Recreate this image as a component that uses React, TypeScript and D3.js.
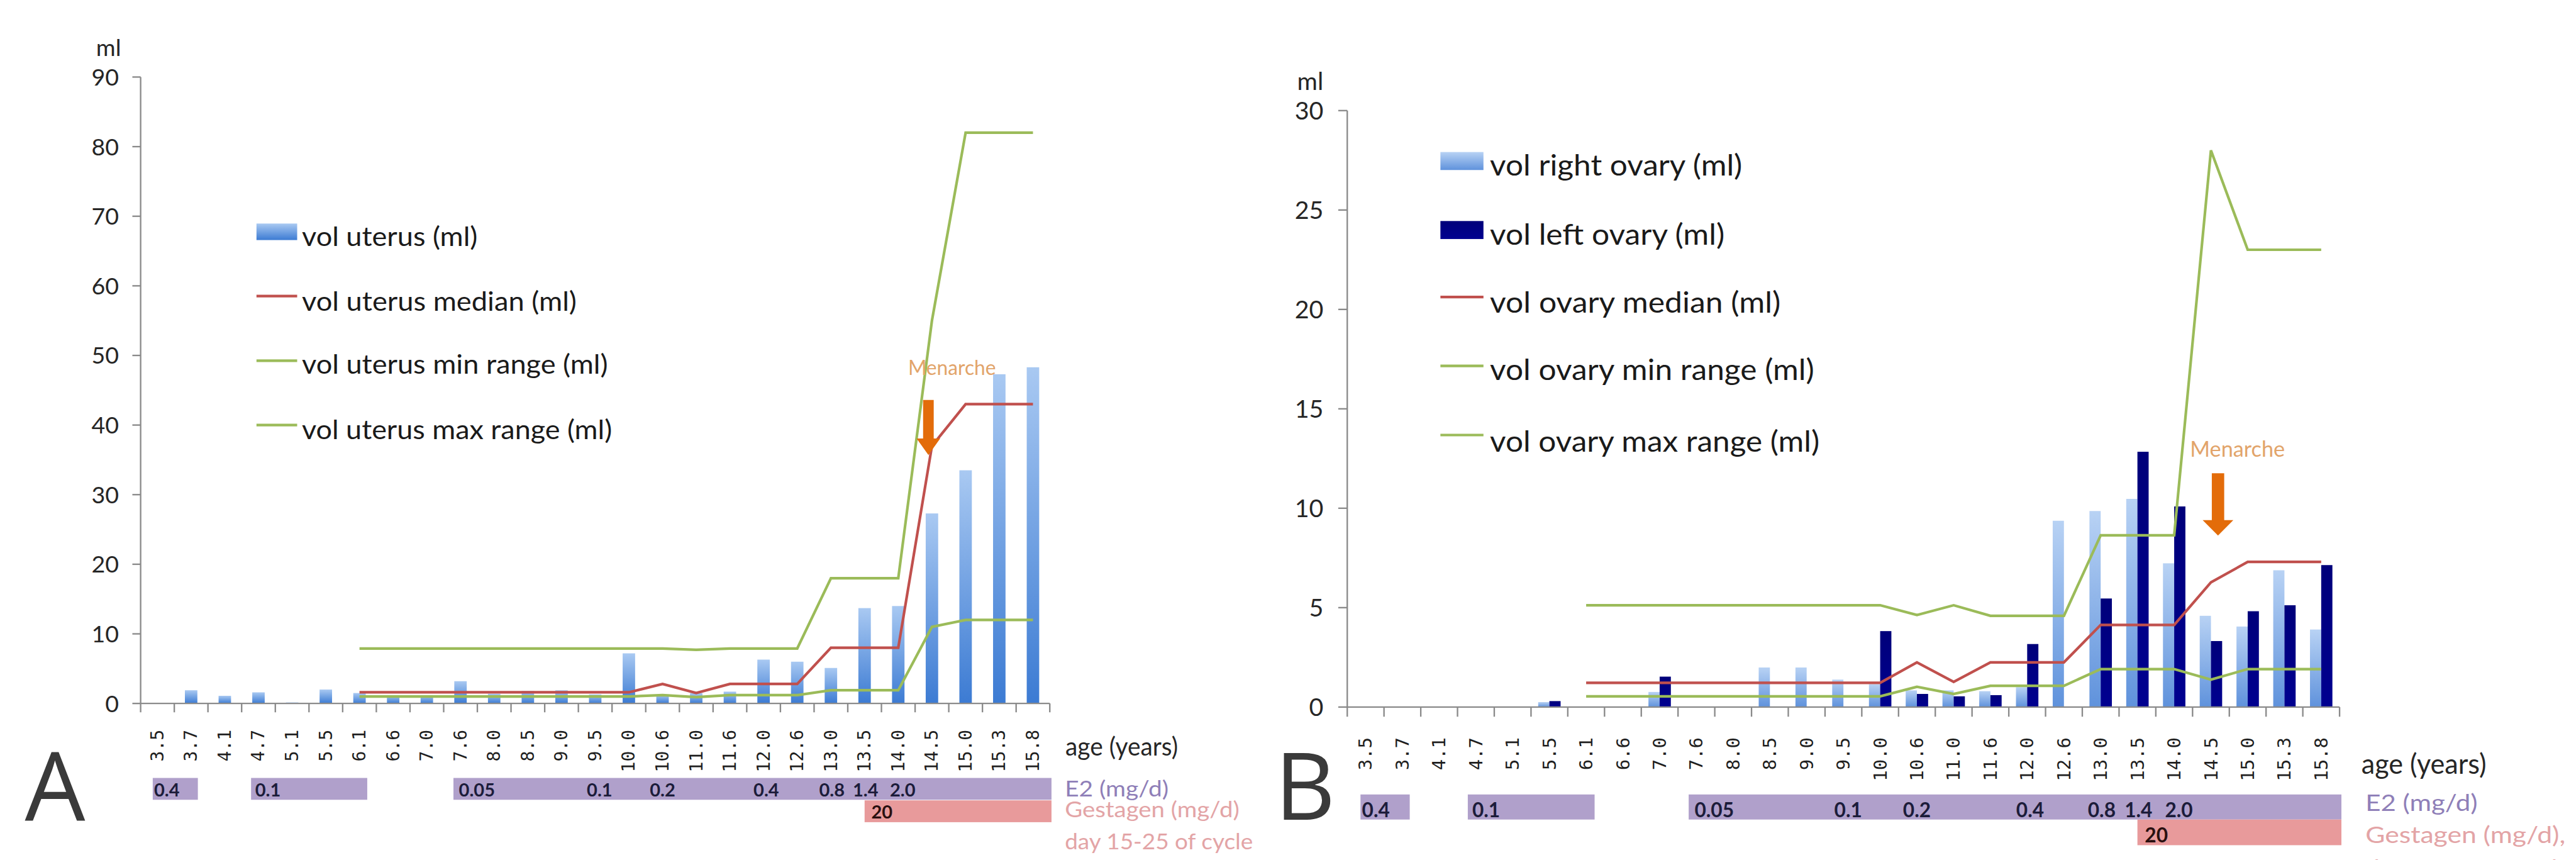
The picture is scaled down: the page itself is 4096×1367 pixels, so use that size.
import React from 'react';
import * as d3 from 'd3';

// ---------- data ----------
const ages = ["3.5","3.7","4.1","4.7","5.1","5.5","6.1","6.6","7.0","7.6","8.0","8.5","9.0","9.5","10.0","10.6","11.0","11.6","12.0","12.6","13.0","13.5","14.0","14.5","15.0","15.3","15.8"];

const uterusVol = [0, 1.9, 1.1, 1.6, 0.15, 2.0, 1.5, 1.2, 1.2, 3.2, 1.4, 1.8, 1.9, 1.3, 7.2, 1.3, 1.5, 1.7, 6.3, 6.0, 5.1, 13.7, 14.0, 27.3, 33.5, 47.3, 48.3];
const uterusMedian: (number | null)[] = [null, null, null, null, null, null, 1.6, 1.6, 1.6, 1.6, 1.6, 1.6, 1.6, 1.6, 1.6, 2.8, 1.5, 2.8, 2.8, 2.8, 8.0, 8.0, 8.0, 37, 43, 43, 43];
const uterusMinRange: (number | null)[] = [null, null, null, null, null, null, 1.0, 1.0, 1.0, 1.0, 1.0, 1.0, 1.0, 1.0, 1.0, 1.2, 0.9, 1.2, 1.2, 1.2, 1.9, 1.9, 1.9, 11.0, 12.0, 12.0, 12.0];
const uterusMaxRange: (number | null)[] = [null, null, null, null, null, null, 7.9, 7.9, 7.9, 7.9, 7.9, 7.9, 7.9, 7.9, 7.9, 7.9, 7.7, 7.9, 7.9, 7.9, 18, 18, 18, 55, 82, 82, 82];

const rightOvaryVol = [0, 0, 0, 0, 0, 0.25, 0, 0, 0.76, 0, 0, 1.99, 1.99, 1.38, 1.15, 0.84, 0.84, 0.8, 1.0, 9.37, 9.86, 10.47, 7.23, 4.59, 4.05, 6.88, 3.9];
const leftOvaryVol = [0, 0, 0, 0, 0, 0.3, 0, 0, 1.53, 0, 0, 0, 0, 0, 3.82, 0.66, 0.54, 0.6, 3.17, 0, 5.46, 12.84, 10.09, 3.32, 4.82, 5.12, 7.14];
const ovaryMedian: (number | null)[] = [null, null, null, null, null, null, 1.22, 1.22, 1.22, 1.22, 1.22, 1.22, 1.22, 1.22, 1.22, 2.25, 1.27, 2.25, 2.25, 2.25, 4.13, 4.13, 4.13, 6.27, 7.3, 7.3, 7.3];
const ovaryMinRange: (number | null)[] = [null, null, null, null, null, null, 0.54, 0.54, 0.54, 0.54, 0.54, 0.54, 0.54, 0.54, 0.54, 1.02, 0.66, 1.07, 1.07, 1.07, 1.91, 1.91, 1.91, 1.38, 1.91, 1.91, 1.91];
const ovaryMaxRange: (number | null)[] = [null, null, null, null, null, null, 5.12, 5.12, 5.12, 5.12, 5.12, 5.12, 5.12, 5.12, 5.12, 4.63, 5.12, 4.59, 4.59, 4.59, 8.64, 8.64, 8.64, 28, 23, 23, 23];

const uterusTicks = [0, 10, 20, 30, 40, 50, 60, 70, 80, 90];
const ovaryTicks = [0, 5, 10, 15, 20, 25, 30];

// E2 / Gestagen treatment table (spans and label positions in category units)
const e2Spans = [[0.36, 1.7], [3.28, 6.73], [9.29, 27.05]];
const e2Doses = ["0.4", "0.1", "0.05", "0.1", "0.2", "0.4", "0.8", "1.4", "2.0"];
const e2DoseAt = [0.4, 3.4, 9.45, 13.25, 15.12, 18.2, 20.15, 21.15, 22.25];
const gestagenSpan = [21.5, 27.05];
const gestagenDose = "20";
const gestagenDoseAt = 21.7;

const menarcheAge = "14.5";
const menarcheArrowUterus = [43.6, 35.7];
const menarcheArrowOvary = [11.76, 8.63];
const menarcheTextUterus = 48.2;
const menarcheTextOvary = 13.0;

const legendUterus = ["vol uterus (ml)", "vol uterus median (ml)", "vol uterus min range (ml)", "vol uterus max range (ml)"];
const legendOvary = ["vol right ovary (ml)", "vol left ovary (ml)", "vol ovary median (ml)", "vol ovary min range (ml)", "vol ovary max range (ml)"];

// ---------- styles ----------
const SANS = "Lato, 'Open Sans', sans-serif";
const MONO = "'DejaVu Sans Mono', monospace";
const AXIS = "#8a8a8a";
const RED = "#c0504d";
const GREEN = "#9bbb59";
const E2FILL = "#b0a0cb";
const GESTFILL = "#e89a9b";
const ORANGE = "#e36c0a";
const LW = 4.5;

type Layout = {
  x0: number; x1: number; y0: number; yTop: number; max: number; ticks: number[];
  s: number; tickFont: number; rotFont: number; rotTop: number;
  mlX: number; mlY: number; ageX: number; ageY: number; ageW: number;
  e2Y: [number, number]; gestY: [number, number]; doseBase: number; gestBase: number;
  rightX: number; e2TextY: number; gestTextY: number; dayTextY: number; gestText: string;
  rightW: number[]; rightFont: number;
  legX: number; swX: [number, number]; legBase: number[]; legMark: number[]; legFont: number; legW: number[];
  letter: string; letterX: number; letterY: number; letterFont: number;
  arrow: number[]; arrowText: number; arrowDx: number; textDx: number; menFont: number; menW: number;
  shaftW: number; headW: number; headH: number;
};

const LA: Layout = {
  x0: 238.5, x1: 1780.5, y0: 1192.7, yTop: 130.6, max: 90, ticks: uterusTicks,
  s: 1, tickFont: 40, rotFont: 30, rotTop: 1237,
  mlX: 163, mlY: 95, ageX: 1807, ageY: 1268, ageW: 191,
  e2Y: [1319, 1356], gestY: [1357, 1394], doseBase: 1350, gestBase: 1388,
  rightX: 1806, e2TextY: 1339, gestTextY: 1375, dayTextY: 1429, gestText: "Gestagen (mg/d)",
  rightW: [176, 296, 319], rightFont: 37,
  legX: 512, swX: [435, 504], legBase: [417, 527, 634, 745], legMark: [393, 502, 611.6, 720.6], legFont: 45,
  legW: [298, 466, 519, 526],
  letter: "A", letterX: 42, letterY: 1392, letterFont: 162,
  arrow: menarcheArrowUterus, arrowText: menarcheTextUterus, arrowDx: -6, textDx: 34, menFont: 34, menW: 149,
  shaftW: 18, headW: 40, headH: 28,
};

const LB: Layout = {
  x0: 2285, x1: 3968, y0: 1198.8, yTop: 187.5, max: 30, ticks: ovaryTicks,
  s: 1.09, tickFont: 42, rotFont: 31, rotTop: 1250,
  mlX: 2200, mlY: 153, ageX: 4005, ageY: 1298, ageW: 212,
  e2Y: [1347, 1389.5], gestY: [1389.5, 1433], doseBase: 1386, gestBase: 1428,
  rightX: 4012, e2TextY: 1363, gestTextY: 1417, dayTextY: 1474, gestText: "Gestagen (mg/d),",
  rightW: [190, 339, 348], rightFont: 40,
  legX: 2527, swX: [2443, 2516], legBase: [298, 415, 530, 644, 766], legMark: [273, 390, 503.6, 620.5, 737.6], legFont: 49,
  legW: [428, 398, 493, 550, 559],
  letter: "B", letterX: 2162, letterY: 1389.5, letterFont: 159,
  arrow: menarcheArrowOvary, arrowText: menarcheTextOvary, arrowDx: 12, textDx: 45, menFont: 37, menW: 161,
  shaftW: 21, headW: 52, headH: 26,
};

function Panel({ L, kind }: { L: Layout; kind: 'uterus' | 'ovary' }) {
  const x = d3.scaleBand<string>().domain(ages).range([L.x0, L.x1]).paddingInner(0).paddingOuter(0);
  const step = x.step();
  const u = d3.scaleLinear().domain([0, ages.length]).range([L.x0, L.x1]);
  const y = d3.scaleLinear().domain([0, L.max]).range([L.y0, L.yTop]);
  const cx = (i: number) => (x(ages[i]) as number) + step / 2;

  const line = d3.line<number | null>()
    .defined(d => d != null)
    .x((_, i) => cx(i))
    .y(d => y(d as number));

  const series = kind === 'uterus'
    ? [uterusMinRange, uterusMaxRange, uterusMedian]
    : [ovaryMinRange, ovaryMaxRange, ovaryMedian];
  const seriesColor = [GREEN, GREEN, RED];

  const boundaries = d3.range(ages.length + 1).map(i => L.x0 + i * step);

  let bars: React.ReactNode[] = [];
  if (kind === 'uterus') {
    const bw = step * 0.37;
    bars = uterusVol.map((v, i) => v > 0 ? (
      <rect key={'u' + i} x={cx(i) - bw / 2} y={y(v)} width={bw} height={L.y0 - y(v)} fill="url(#gradUterus)" />
    ) : null);
  } else {
    const bw = step * 0.305;
    bars = ages.flatMap((a, i) => [
      rightOvaryVol[i] > 0 ? <rect key={'r' + i} x={cx(i) - bw} y={y(rightOvaryVol[i])} width={bw} height={L.y0 - y(rightOvaryVol[i])} fill="url(#gradRight)" /> : null,
      leftOvaryVol[i] > 0 ? <rect key={'l' + i} x={cx(i)} y={y(leftOvaryVol[i])} width={bw} height={L.y0 - y(leftOvaryVol[i])} fill="url(#gradLeft)" /> : null,
    ]);
  }

  const legendLabels = kind === 'uterus' ? legendUterus : legendOvary;
  const legendKinds = kind === 'uterus'
    ? ['bar:gradUterus', 'line:' + RED, 'line:' + GREEN, 'line:' + GREEN]
    : ['bar:gradRight', 'bar:gradLeft', 'line:' + RED, 'line:' + GREEN, 'line:' + GREEN];

  const mi = ages.indexOf(menarcheAge);
  const ax = cx(mi) + L.arrowDx;
  const aTop = y(L.arrow[0]);
  const aTip = y(L.arrow[1]);
  const aHead = aTip - L.headH;
  const rf = L.rightFont;

  return (
    <g>
      {bars}
      {series.map((s, k) => (
        <path key={'s' + k} d={line(s) || ''} fill="none" stroke={seriesColor[k]} strokeWidth={LW} strokeLinejoin="miter" />
      ))}
      {/* y axis */}
      <line x1={L.x0} x2={L.x0} y1={y(L.max)} y2={L.y0} stroke={AXIS} strokeWidth={2.5} />
      {L.ticks.map(t => (
        <g key={'yt' + t}>
          <line x1={L.x0 - 14 * L.s} x2={L.x0} y1={y(t)} y2={y(t)} stroke={AXIS} strokeWidth={2.5} />
          <text x={L.x0 - 37 * L.s} y={y(t) + 0.36 * L.tickFont} textAnchor="end" fontFamily={SANS} fontSize={L.tickFont} fill="#262626">{t}</text>
        </g>
      ))}
      <text x={L.mlX} y={L.mlY} fontFamily={SANS} fontSize={L.tickFont} fill="#262626">ml</text>
      {/* x axis */}
      <line x1={L.x0} x2={L.x1} y1={L.y0} y2={L.y0} stroke={AXIS} strokeWidth={2.5} />
      {boundaries.map((b, i) => (
        <line key={'xt' + i} x1={b} x2={b} y1={L.y0} y2={L.y0 + 15 * L.s} stroke={AXIS} strokeWidth={2.5} />
      ))}
      {ages.map((a, i) => (
        <text key={'xl' + i} transform={`translate(${cx(i)},${L.rotTop}) rotate(-90)`} textAnchor="end" dominantBaseline="central"
          fontFamily={MONO} fontSize={L.rotFont} fill="#1e1e1e">{a}</text>
      ))}
      <text x={L.ageX} y={L.ageY + 0.3 * 44 * L.s} fontFamily={SANS} fontSize={44 * L.s} fill="#262626"
        textLength={L.ageW} lengthAdjust="spacingAndGlyphs">age (years)</text>
      {/* E2 / gestagen table */}
      {e2Spans.map((sp, i) => (
        <rect key={'e2' + i} x={u(sp[0])} y={L.e2Y[0]} width={u(sp[1]) - u(sp[0])} height={L.e2Y[1] - L.e2Y[0]} fill={E2FILL} />
      ))}
      <rect x={u(gestagenSpan[0])} y={L.gestY[0]} width={u(gestagenSpan[1]) - u(gestagenSpan[0])} height={L.gestY[1] - L.gestY[0]} fill={GESTFILL} />
      {e2Doses.map((d, i) => (
        <text key={'ed' + i} x={u(e2DoseAt[i])} y={L.doseBase} fontFamily={SANS} fontWeight={700} fontSize={31 * L.s} fill="#1c1c3a">{d}</text>
      ))}
      <text x={u(gestagenDoseAt)} y={L.gestBase} fontFamily={SANS} fontWeight={700} fontSize={31 * L.s} fill="#2a1010">{gestagenDose}</text>
      <text x={L.rightX} y={L.e2TextY + 0.3 * rf} fontFamily={SANS} fontSize={rf} fill="#8f7fb8"
        textLength={L.rightW[0]} lengthAdjust="spacingAndGlyphs">E2 (mg/d)</text>
      <text x={L.rightX} y={L.gestTextY + 0.3 * rf} fontFamily={SANS} fontSize={rf} fill="#e3a4a6"
        textLength={L.rightW[1]} lengthAdjust="spacingAndGlyphs">{L.gestText}</text>
      <text x={L.rightX} y={L.dayTextY + 0.3 * rf} fontFamily={SANS} fontSize={rf} fill="#e3a4a6"
        textLength={L.rightW[2]} lengthAdjust="spacingAndGlyphs">day 15-25 of cycle</text>
      {/* legend */}
      {legendLabels.map((lab, i) => {
        const kd = legendKinds[i];
        const mark = kd.startsWith('bar:')
          ? <rect x={L.swX[0]} y={L.legMark[i] - 14 * L.s} width={L.swX[1] - L.swX[0]} height={28 * L.s} fill={`url(#${kd.slice(4)})`} />
          : <line x1={L.swX[0]} x2={L.swX[1]} y1={L.legMark[i]} y2={L.legMark[i]} stroke={kd.slice(5)} strokeWidth={LW} />;
        return (
          <g key={'lg' + i}>
            {mark}
            <text x={L.legX} y={L.legBase[i]} fontFamily={SANS} fontSize={L.legFont} fill="#1a1a1a"
              textLength={L.legW[i]} lengthAdjust="spacingAndGlyphs">{lab}</text>
          </g>
        );
      })}
      {/* menarche */}
      <text x={cx(mi) + L.textDx - L.menW / 2} y={y(L.arrowText) + 0.36 * L.menFont} fontFamily={SANS} fontSize={L.menFont} fill="#e2a46a"
        textLength={L.menW} lengthAdjust="spacingAndGlyphs">Menarche</text>
      <path d={`M${ax - L.shaftW / 2},${aTop} L${ax + L.shaftW / 2},${aTop} L${ax + L.shaftW / 2},${aHead} L${ax + L.headW / 2},${aHead} L${ax},${aTip} L${ax - L.headW / 2},${aHead} L${ax - L.shaftW / 2},${aHead} Z`} fill={ORANGE} />
      {/* panel letter */}
      <text x={L.letterX} y={L.letterY} fontFamily="'Open Sans', sans-serif" fontSize={L.letterFont} fill="#3a3a3a">{L.letter}</text>
    </g>
  );
}

export default function App() {
  const k = 4096 / 4369;
  return (
    <svg width={4096} height={1367} style={{ position: 'absolute', left: 0, top: 0, background: '#fff' }}>
      <defs>
        <linearGradient id="gradUterus" x1="0" y1="0" x2="0" y2="1">
          <stop offset="0" stopColor="#a9c9f2" />
          <stop offset="1" stopColor="#3c7bd3" />
        </linearGradient>
        <linearGradient id="gradRight" x1="0" y1="0" x2="0" y2="1">
          <stop offset="0" stopColor="#b8d2f4" />
          <stop offset="1" stopColor="#5f92dc" />
        </linearGradient>
        <linearGradient id="gradLeft" x1="0" y1="0" x2="0" y2="1">
          <stop offset="0" stopColor="#00007a" />
          <stop offset="1" stopColor="#000090" />
        </linearGradient>
      </defs>
      <rect x={0} y={0} width={4096} height={1367} fill="#fff" />
      <g transform={`scale(${k})`}>
        <Panel L={LA} kind="uterus" />
        <Panel L={LB} kind="ovary" />
      </g>
    </svg>
  );
}
